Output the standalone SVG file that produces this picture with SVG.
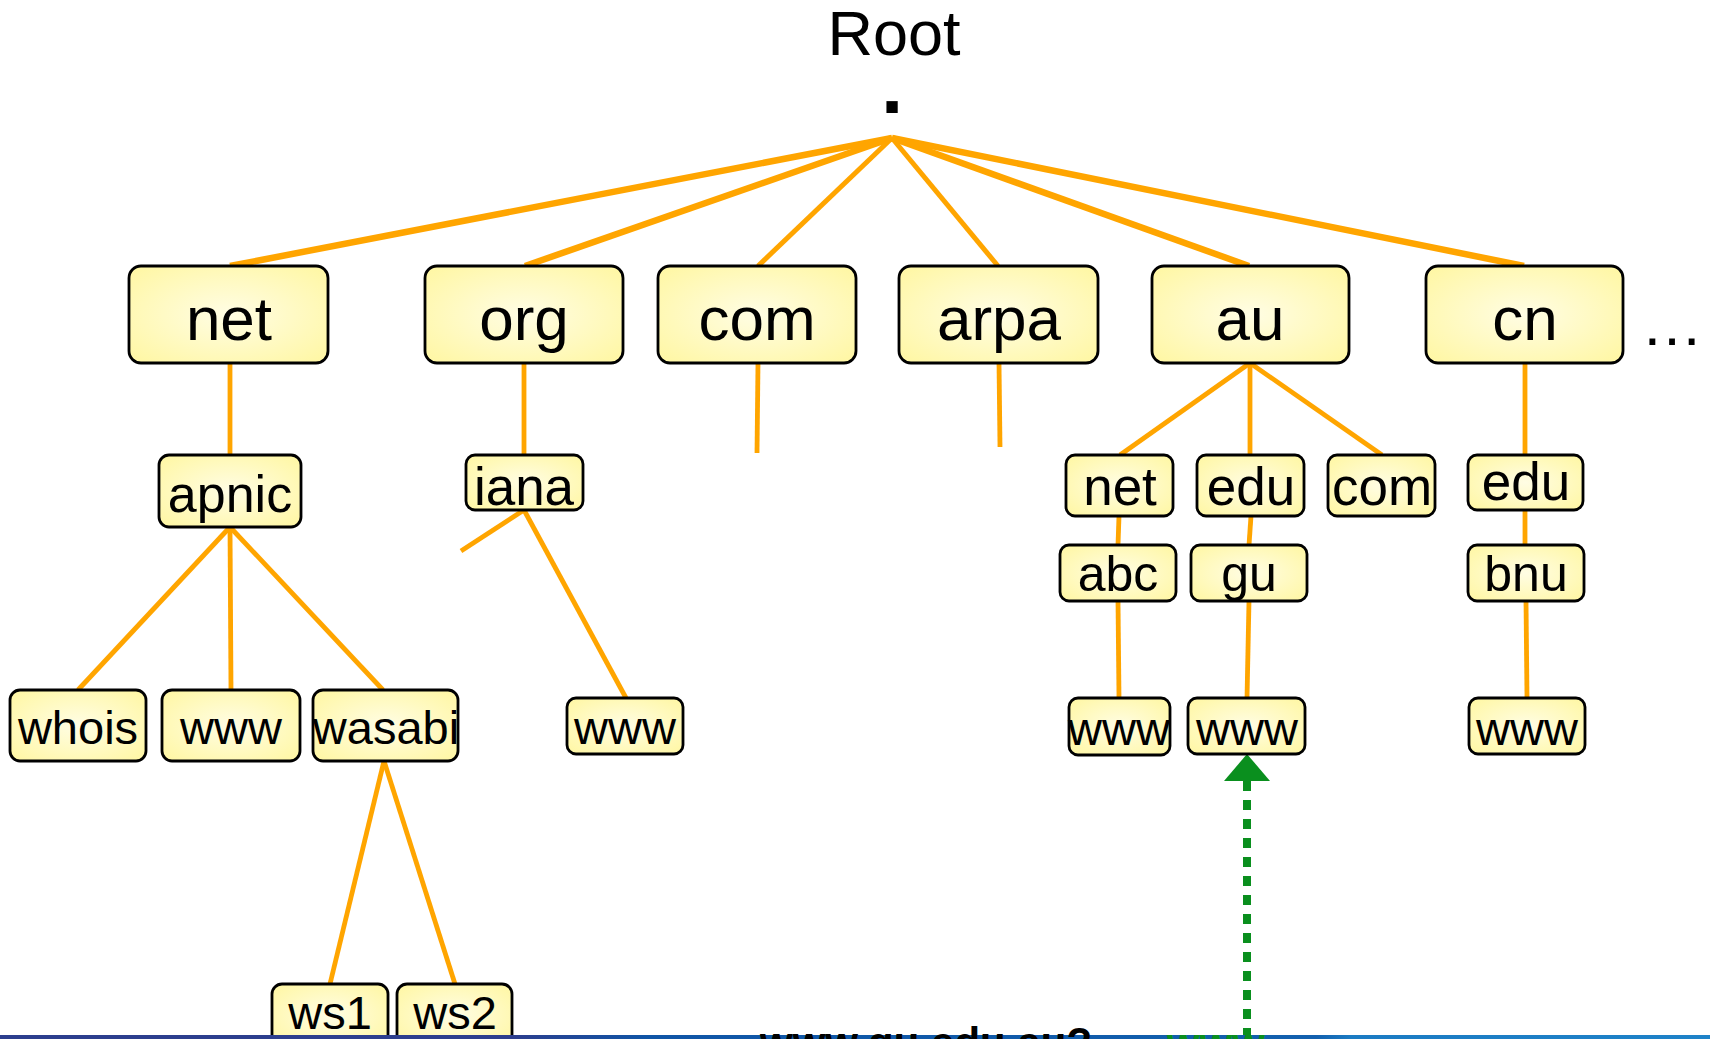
<svg xmlns="http://www.w3.org/2000/svg" width="1710" height="1039" viewBox="0 0 1710 1039">
<defs>
<radialGradient id="boxfill" cx="50%" cy="50%" r="65%">
<stop offset="0" stop-color="#FFFDE4"/>
<stop offset="1" stop-color="#FFF7A6"/>
</radialGradient>
<linearGradient id="bar" x1="0" y1="0" x2="1" y2="0">
<stop offset="0" stop-color="#2C3E8E"/>
<stop offset="0.3" stop-color="#2C3E8E"/>
<stop offset="0.38" stop-color="#0F55A6"/>
<stop offset="0.77" stop-color="#1260AE"/>
<stop offset="0.79" stop-color="#1B7BC3"/>
<stop offset="1" stop-color="#1E82C8"/>
</linearGradient>
</defs>
<style>
.box{fill:url(#boxfill);stroke:#000;stroke-width:2.8}
.t{font-family:"Liberation Sans",Arial,Helvetica,sans-serif;fill:#000;text-anchor:middle}
.big{font-size:62px}
.mid{font-size:53px}
.sm{font-size:47px}
.ln{stroke:#FFA500;fill:none;stroke-linecap:butt}
.w6{stroke-width:6.5}
.w5{stroke-width:5}
.w4{stroke-width:4.8}
</style>
<rect x="0" y="0" width="1710" height="1039" fill="#FFFFFF"/>

<g id="connectors">
<line class="ln w6" x1="892" y1="138" x2="230" y2="266"/>
<line class="ln w6" x1="892" y1="138" x2="525" y2="266"/>
<line class="ln w5" x1="892" y1="138" x2="758" y2="266"/>
<line class="ln w5" x1="892" y1="138" x2="998" y2="266"/>
<line class="ln w6" x1="892" y1="138" x2="1249" y2="266"/>
<line class="ln w6" x1="892" y1="138" x2="1524" y2="266"/>
<line class="ln w4" x1="230" y1="363" x2="230" y2="455"/>
<line class="ln w4" x1="524" y1="363" x2="524" y2="455"/>
<line class="ln w4" x1="758" y1="363" x2="757" y2="453"/>
<line class="ln w4" x1="999" y1="363" x2="1000" y2="447"/>
<line class="ln w4" x1="1250" y1="363" x2="1120" y2="455"/>
<line class="ln w4" x1="1250" y1="363" x2="1250" y2="455"/>
<line class="ln w4" x1="1250" y1="363" x2="1382" y2="455"/>
<line class="ln w4" x1="1525" y1="363" x2="1525" y2="455"/>
<line class="ln w4" x1="230" y1="527" x2="78" y2="690"/>
<line class="ln w4" x1="230" y1="527" x2="231" y2="690"/>
<line class="ln w4" x1="230" y1="527" x2="383" y2="690"/>
<line class="ln w4" x1="524" y1="510" x2="461" y2="551"/>
<line class="ln w4" x1="524" y1="510" x2="626" y2="698"/>
<line class="ln w4" x1="384" y1="761" x2="330" y2="984"/>
<line class="ln w4" x1="384" y1="761" x2="455" y2="984"/>
<line class="ln w4" x1="1119" y1="516" x2="1118" y2="545"/>
<line class="ln w4" x1="1251" y1="516" x2="1249" y2="545"/>
<line class="ln w4" x1="1525" y1="510" x2="1525" y2="545"/>
<line class="ln w4" x1="1118" y1="601" x2="1119" y2="698"/>
<line class="ln w4" x1="1249" y1="601" x2="1247" y2="698"/>
<line class="ln w4" x1="1526" y1="601" x2="1527" y2="698"/>
<line x1="1247" y1="781" x2="1247" y2="1039" stroke="#0A8F1E" stroke-width="8" stroke-dasharray="10 9"/>
<polygon points="1247,754 1224,781 1270,781" fill="#0A8F1E"/>
</g>

<g id="root">
<text class="t" x="894" y="55" font-size="63">Root</text>
<text class="t" x="892" y="113" font-size="80" font-weight="bold">.</text>
</g>

<g id="n-net"><rect class="box" x="129" y="266" width="199" height="97" rx="12"/><text class="t big" x="229" y="340">net</text></g>
<g id="n-org"><rect class="box" x="425" y="266" width="198" height="97" rx="12"/><text class="t big" x="524" y="340">org</text></g>
<g id="n-com"><rect class="box" x="658" y="266" width="198" height="97" rx="12"/><text class="t big" x="757" y="340">com</text></g>
<g id="n-arpa"><rect class="box" x="899" y="266" width="199" height="97" rx="12"/><text class="t big" x="999" y="340">arpa</text></g>
<g id="n-au"><rect class="box" x="1152" y="266" width="197" height="97" rx="12"/><text class="t big" x="1250" y="340">au</text></g>
<g id="n-cn"><rect class="box" x="1426" y="266" width="197" height="97" rx="12"/><text class="t big" x="1525" y="340">cn</text></g>
<g id="ellipsis"><text class="t big" x="1672" y="345">…</text></g>

<g id="n-apnic"><rect class="box" x="159" y="455" width="142" height="72" rx="10"/><text class="t" font-size="52" x="230" y="512">apnic</text></g>
<g id="n-iana"><rect class="box" x="466" y="455" width="117" height="55" rx="9"/><text class="t mid" x="524" y="505">iana</text></g>

<g id="n-whois"><rect class="box" x="10" y="690" width="136" height="71" rx="10"/><text class="t sm" x="78" y="744">whois</text></g>
<g id="n-apnic-www"><rect class="box" x="162" y="690" width="138" height="71" rx="10"/><text class="t sm" x="231" y="744">www</text></g>
<g id="n-wasabi"><rect class="box" x="313" y="690" width="145" height="71" rx="10"/><text class="t sm" x="386" y="744">wasabi</text></g>
<g id="n-iana-www"><rect class="box" x="567" y="698" width="116" height="56" rx="9"/><text class="t sm" x="625" y="744">www</text></g>

<g id="n-ws1"><rect class="box" x="272" y="984" width="116" height="62" rx="10"/><text class="t sm" x="330" y="1029">ws1</text></g>
<g id="n-ws2"><rect class="box" x="397" y="984" width="115" height="62" rx="10"/><text class="t sm" x="455" y="1029">ws2</text></g>

<g id="n-au-net"><rect class="box" x="1066" y="455" width="107" height="61" rx="9"/><text class="t mid" x="1120" y="505">net</text></g>
<g id="n-au-edu"><rect class="box" x="1197" y="455" width="107" height="61" rx="9"/><text class="t mid" x="1251" y="505">edu</text></g>
<g id="n-au-com"><rect class="box" x="1328" y="455" width="107" height="61" rx="9"/><text class="t mid" x="1382" y="505">com</text></g>
<g id="n-cn-edu"><rect class="box" x="1468" y="455" width="115" height="55" rx="9"/><text class="t mid" x="1526" y="500">edu</text></g>

<g id="n-abc"><rect class="box" x="1060" y="545" width="116" height="56" rx="9"/><text class="t" font-size="50" x="1118" y="591">abc</text></g>
<g id="n-gu"><rect class="box" x="1191" y="545" width="116" height="56" rx="9"/><text class="t" font-size="50" x="1249" y="591">gu</text></g>
<g id="n-bnu"><rect class="box" x="1468" y="545" width="116" height="56" rx="9"/><text class="t" font-size="50" x="1526" y="591">bnu</text></g>

<g id="n-abc-www"><rect class="box" x="1069" y="698" width="101" height="57" rx="9"/><text class="t sm" x="1119" y="745">www</text></g>
<g id="n-gu-www"><rect class="box" x="1188" y="698" width="117" height="56" rx="9"/><text class="t sm" x="1247" y="745">www</text></g>
<g id="n-bnu-www"><rect class="box" x="1469" y="698" width="116" height="56" rx="9"/><text class="t sm" x="1527" y="745">www</text></g>

<g id="footer">
<rect x="0" y="1035" width="1710" height="4" fill="url(#bar)"/>
<text x="760" y="1057" font-family="Liberation Sans,Arial,sans-serif" font-size="42" font-weight="bold" fill="#000">www.gu.edu.au?</text>
<text x="1167" y="1058" font-family="Liberation Sans,Arial,sans-serif" font-size="42" font-weight="bold" fill="#0A8F1E">www</text>
</g>
</svg>
